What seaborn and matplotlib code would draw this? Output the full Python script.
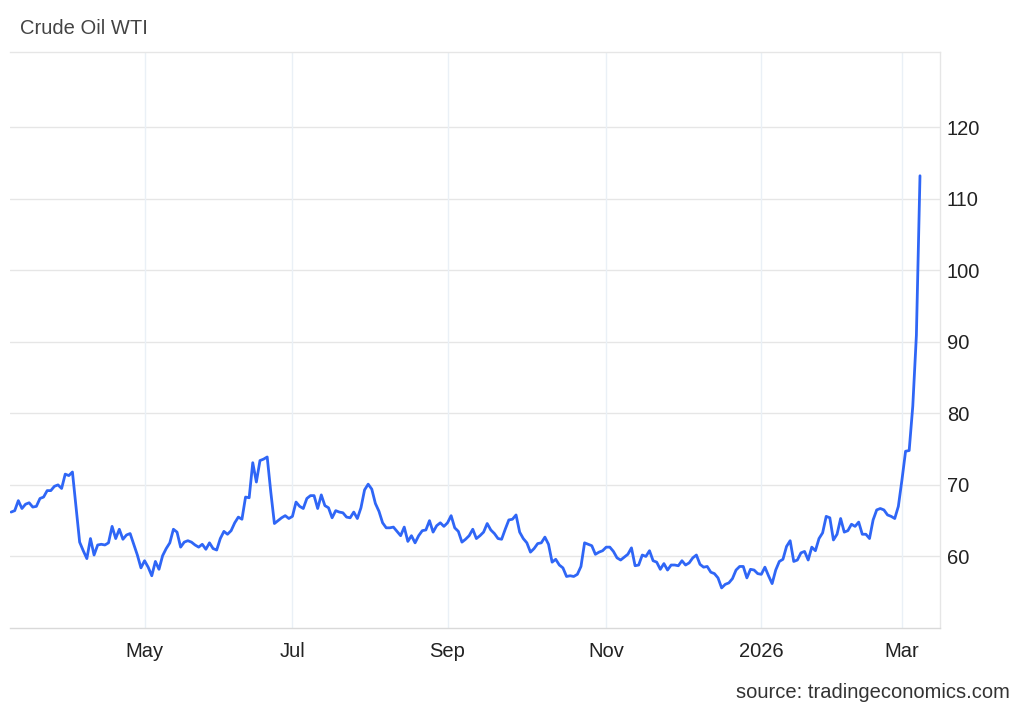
import pandas as pd
import matplotlib
matplotlib.use("Agg")
import matplotlib.pyplot as plt
import seaborn as sns

# ---------------- DATA ----------------
start_date = "2025-03-10"
market_holidays = [
    "2025-04-18", "2025-05-26", "2025-06-19", "2025-07-04", "2025-09-01",
    "2026-01-01", "2026-01-19", "2026-02-16",
]

prices = [
    66.2, 66.4, 67.8, 66.7, 67.3, 67.5, 66.9, 67.0, 68.1, 68.3,
    69.2, 69.2, 69.8, 70.0, 69.5, 71.5, 71.3, 71.8, 66.9, 62.0,
    60.8, 59.7, 62.5, 60.2, 61.6, 61.7, 61.6, 61.9, 64.2, 62.5,
    63.8, 62.4, 63.0, 63.2, 61.7, 60.2, 58.4, 59.4, 58.5, 57.3,
    59.3, 58.2, 60.1, 61.1, 61.9, 63.8, 63.4, 61.3, 62.0, 62.2,
    62.0, 61.6, 61.3, 61.7, 61.0, 61.9, 61.1, 60.9, 62.5, 63.5,
    63.1, 63.6, 64.7, 65.5, 65.2, 68.3, 68.2, 73.1, 70.4, 73.4,
    73.6, 73.9, 69.0, 64.6, 65.0, 65.4, 65.7, 65.3, 65.6, 67.6,
    67.0, 66.7, 68.1, 68.5, 68.5, 66.7, 68.6, 67.1, 66.8, 65.4,
    66.4, 66.2, 66.1, 65.5, 65.4, 66.2, 65.3, 66.8, 69.3, 70.1,
    69.4, 67.4, 66.3, 64.7, 64.0, 64.0, 64.1, 63.5, 62.9, 64.1,
    62.1, 62.9, 61.9, 62.9, 63.6, 63.7, 65.0, 63.4, 64.3, 64.7,
    64.2, 64.7, 65.7, 64.0, 63.5, 62.0, 62.4, 62.9, 63.8, 62.5,
    62.9, 63.4, 64.6, 63.7, 63.2, 62.5, 62.4, 63.8, 65.1, 65.2,
    65.8, 63.4, 62.5, 61.9, 60.6, 61.1, 61.8, 61.9, 62.7, 61.7,
    59.2, 59.6, 58.8, 58.4, 57.2, 57.3, 57.2, 57.5, 58.6, 61.9,
    61.7, 61.5, 60.3, 60.6, 60.8, 61.3, 61.3, 60.7, 59.8, 59.5,
    59.9, 60.3, 61.2, 58.7, 58.8, 60.2, 60.0, 60.8, 59.4, 59.2,
    58.2, 59.0, 58.1, 58.8, 58.8, 58.7, 59.4, 58.8, 59.1, 59.8,
    60.2, 58.9, 58.5, 58.6, 57.8, 57.6, 57.0, 55.6, 56.1, 56.3,
    56.9, 58.1, 58.6, 58.6, 57.0, 58.2, 58.1, 57.6, 57.5, 58.5,
    57.3, 56.2, 58.1, 59.3, 59.6, 61.4, 62.2, 59.3, 59.5, 60.5,
    60.7, 59.5, 61.3, 60.8, 62.5, 63.3, 65.6, 65.4, 62.3, 63.1,
    65.3, 63.4, 63.6, 64.5, 64.2, 64.8, 63.1, 63.1, 62.5, 65.1,
    66.5, 66.7, 66.5, 65.8, 65.6, 65.3, 67.0, 70.7, 74.7, 74.8,
    81.0, 90.9, 113.2,
]

tick_months = ["2025-05-01", "2025-07-01", "2025-09-01", "2025-11-01",
               "2026-01-01", "2026-03-01"]
tick_labels = ["May", "Jul", "Sep", "Nov", "2026", "Mar"]
y_ticks = [60, 70, 80, 90, 100, 110, 120]

# ---------------- BUILD TABLE ----------------
trading_days = pd.offsets.CustomBusinessDay(holidays=market_holidays)
dates = pd.date_range(start_date, periods=len(prices), freq=trading_days)
df = pd.DataFrame({"Date": dates, "Price": prices})
df["Step"] = range(len(df))

tick_pos = [int(df.loc[df["Date"] >= pd.Timestamp(m), "Step"].iloc[0]) for m in tick_months]

# ---------------- PLOT ----------------
sns.set_theme(style="white")
plt.rcParams["font.family"] = ["Liberation Sans", "DejaVu Sans"]

fig = plt.figure(figsize=(10.24, 7.10), dpi=100)
ax = fig.add_axes([0.0098, 0.1155, 0.908, 0.8113])

sns.lineplot(data=df, x="Step", y="Price", color="#2f66f6", linewidth=2.0, ax=ax)

ax.set_xlim(-0.3, 257.5)
ax.set_ylim(50, 130.5)

ax.set_xticks(tick_pos)
ax.set_xticklabels(tick_labels)
ax.set_yticks(y_ticks)
ax.set_yticklabels([str(v) for v in y_ticks])

ax.yaxis.tick_right()
ax.tick_params(axis="y", length=0, pad=5, labelsize=14.5, labelcolor="#222222")
ax.tick_params(axis="x", length=0, pad=10, labelsize=14.5, labelcolor="#222222")

ax.grid(False)
for v in y_ticks:
    ax.axhline(v, color="#e6e6e6", linewidth=1.0, zorder=0)
for p in tick_pos:
    ax.axvline(p, color="#eaf0f6", linewidth=1.0, zorder=0)

ax.set_xlabel("")
ax.set_ylabel("")

ax.spines["left"].set_visible(False)
ax.spines["top"].set_color("#e6e6e6")
ax.spines["right"].set_color("#e6e6e6")
ax.spines["bottom"].set_color("#d9d9d9")
for side in ["top", "right", "bottom"]:
    ax.spines[side].set_linewidth(1.0)

fig.text(20 / 1024, 1 - 28 / 710, "Crude Oil WTI", fontsize=14.5,
         color="#444444", ha="left", va="center")
fig.text(1010 / 1024, 1 - 693 / 710, "source: tradingeconomics.com", fontsize=14.5,
         color="#333333", ha="right", va="center")

plt.savefig("out.png", dpi=100)
plt.close()
